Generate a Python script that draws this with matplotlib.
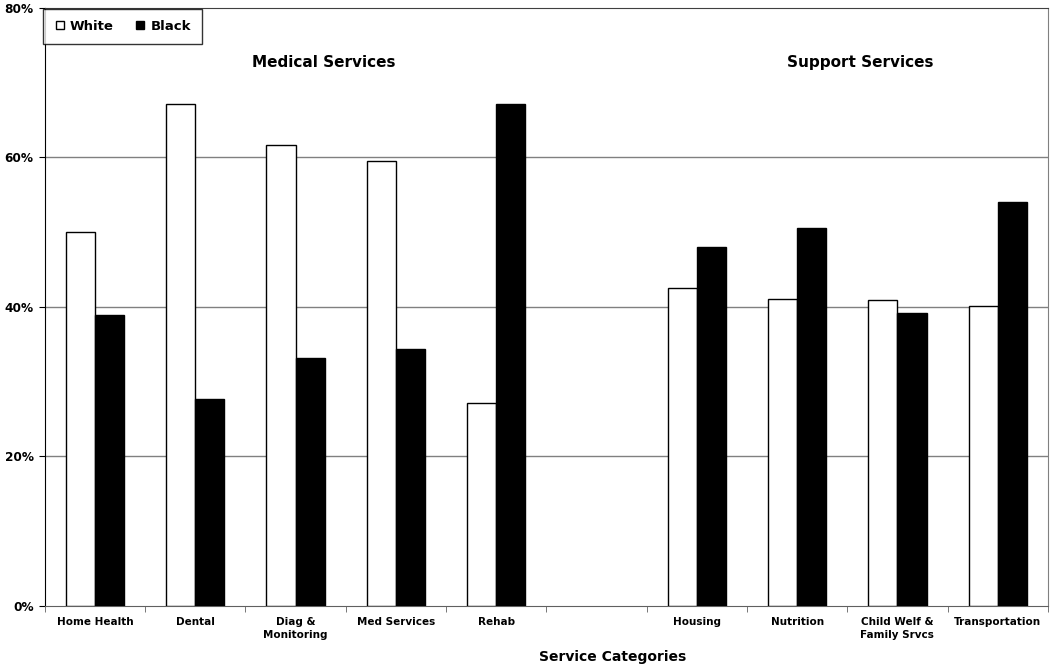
import matplotlib
matplotlib.use("Agg")
import matplotlib.pyplot as plt
from matplotlib.lines import Line2D
import numpy as np

plt.rcParams['font.family'] = ['DejaVu Sans']

categories = ["Home Health", "Dental", "Diag &\nMonitoring", "Med Services", "Rehab",
              "", "Housing", "Nutrition", "Child Welf &\nFamily Srvcs", "Transportation"]
white = [50.0, 67.1, 61.6, 59.5, 27.1, np.nan, 42.5, 41.1, 40.9, 40.1]
black = [38.9, 27.7, 33.2, 34.4, 67.2, np.nan, 48.0, 50.6, 39.1, 54.0]
yticks = [0, 20, 40, 60, 80]
group_labels = ["Medical Services", "Support Services"]

fig = plt.figure(figsize=(10.5, 6.66), dpi=100)
ax = fig.add_axes([0.0426, 0.0908, 0.998 - 0.0426, 0.988 - 0.0908])

x = np.arange(len(categories))
w = 0.29
ax.bar(x - w / 2, white, width=w, color="white", edgecolor="black", linewidth=1.0, zorder=3)
ax.bar(x + w / 2, black, width=w, color="black", edgecolor="black", linewidth=1.0, zorder=3)

ax.set_xlim(-0.5, len(categories) - 0.5)
ax.set_ylim(0, 80)
ax.set_yticks(yticks)
ax.set_yticklabels([f"{v}%" for v in yticks], fontsize=8.7, fontweight="bold")
for yv in yticks[1:-1]:
    ax.axhline(yv, color="#808080", linewidth=1.0, zorder=1)

ax.set_xticks(x)
ax.set_xticklabels(categories, fontsize=7.5, fontweight="bold", linespacing=1.45)
ax.set_xticks(np.arange(-0.5, len(categories)), minor=True)
ax.tick_params(axis="x", which="major", length=0, pad=8)
ax.tick_params(axis="x", which="minor", length=4, direction="out", color="#606060")
ax.tick_params(axis="y", length=4, direction="out", pad=4)

ax.spines["left"].set_color("black")
ax.spines["bottom"].set_color("#606060")
ax.spines["top"].set_color("#404040")
ax.spines["right"].set_color("#808080")

ax.set_xlabel("Service Categories", fontsize=10, fontweight="bold")
ax.xaxis.set_label_coords(0.566, -0.0745)

ax.text(2.285, 72.7, group_labels[0], ha="center", va="center", fontsize=11, fontweight="bold")
ax.text(7.63, 72.7, group_labels[1], ha="center", va="center", fontsize=11, fontweight="bold")

handles = [Line2D([], [], marker="s", linestyle="none", markerfacecolor="white",
                  markeredgecolor="black", markersize=6, markeredgewidth=1.0),
           Line2D([], [], marker="s", linestyle="none", markerfacecolor="black",
                  markeredgecolor="black", markersize=6)]
leg = ax.legend(handles, ["White", "Black"], loc="upper left", ncol=2, frameon=True,
                fancybox=False, edgecolor="black", prop={"weight": "bold", "size": 9.5},
                bbox_to_anchor=(-0.0017, 0.999), borderaxespad=0, handletextpad=0.36,
                columnspacing=1.64, handlelength=0.8, borderpad=0.85)
leg.get_frame().set_linewidth(1.0)
leg.set_zorder(5)

fig.savefig("out.png", dpi=100)
